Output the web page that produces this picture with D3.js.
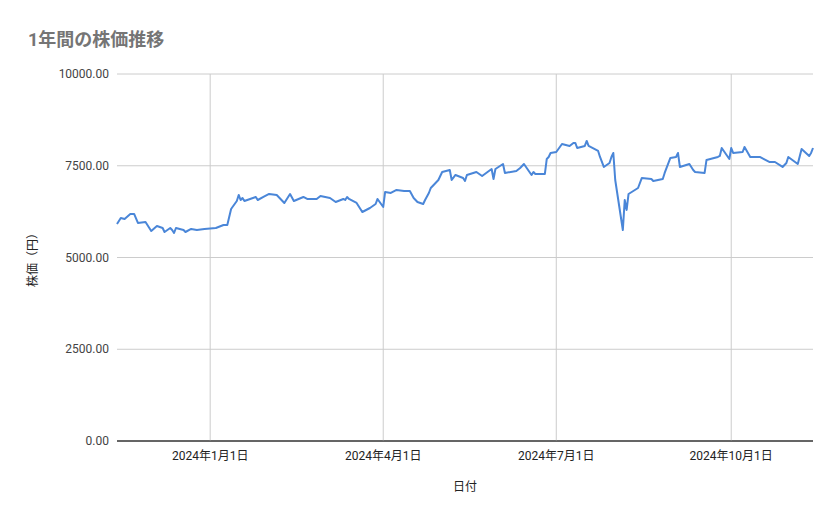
<!DOCTYPE html>
<html><head><meta charset="utf-8">
<script src="https://cdn.jsdelivr.net/npm/d3@7"></script>
<style>body{margin:0;background:#fff;font-family:Roboto,"Noto Sans CJK JP",sans-serif;}</style>
</head><body><svg id="c" width="839" height="519"></svg>
<script>
const dates = ["2023-11-13","2023-11-15","2023-11-17","2023-11-20","2023-11-22","2023-11-24","2023-11-28","2023-11-29","2023-12-01","2023-12-04","2023-12-07","2023-12-08","2023-12-11","2023-12-12","2023-12-13","2023-12-14","2023-12-18","2023-12-19","2023-12-22","2023-12-25","2023-12-29","2024-01-04","2024-01-08","2024-01-10","2024-01-12","2024-01-15","2024-01-16","2024-01-17","2024-01-18","2024-01-19","2024-01-22","2024-01-25","2024-01-26","2024-01-29","2024-02-01","2024-02-05","2024-02-07","2024-02-09","2024-02-12","2024-02-14","2024-02-19","2024-02-21","2024-02-26","2024-02-28","2024-03-04","2024-03-07","2024-03-11","2024-03-12","2024-03-13","2024-03-14","2024-03-18","2024-03-21","2024-03-25","2024-03-28","2024-03-29","2024-04-01","2024-04-02","2024-04-05","2024-04-08","2024-04-12","2024-04-15","2024-04-17","2024-04-19","2024-04-22","2024-04-23","2024-04-25","2024-04-26","2024-04-30","2024-05-02","2024-05-06","2024-05-07","2024-05-09","2024-05-13","2024-05-14","2024-05-15","2024-05-20","2024-05-23","2024-05-28","2024-05-29","2024-05-30","2024-06-03","2024-06-04","2024-06-10","2024-06-12","2024-06-14","2024-06-18","2024-06-19","2024-06-20","2024-06-25","2024-06-26","2024-06-27","2024-06-28","2024-07-01","2024-07-04","2024-07-08","2024-07-10","2024-07-11","2024-07-12","2024-07-16","2024-07-17","2024-07-18","2024-07-23","2024-07-24","2024-07-26","2024-07-29","2024-07-30","2024-07-31","2024-08-01","2024-08-05","2024-08-06","2024-08-07","2024-08-08","2024-08-13","2024-08-15","2024-08-20","2024-08-21","2024-08-26","2024-08-27","2024-08-30","2024-09-02","2024-09-03","2024-09-04","2024-09-09","2024-09-11","2024-09-12","2024-09-17","2024-09-18","2024-09-24","2024-09-25","2024-09-26","2024-09-30","2024-10-01","2024-10-02","2024-10-07","2024-10-08","2024-10-11","2024-10-16","2024-10-21","2024-10-24","2024-10-28","2024-10-30","2024-10-31","2024-11-05","2024-11-07","2024-11-11","2024-11-12","2024-11-13"];
const prices = [5913,6077,6050,6186,6186,5941,5968,5886,5723,5859,5804,5695,5804,5750,5668,5804,5750,5695,5777,5750,5777,5804,5886,5886,6322,6540,6704,6567,6622,6540,6595,6649,6567,6649,6731,6704,6595,6486,6731,6540,6649,6595,6595,6676,6622,6513,6595,6567,6649,6595,6486,6240,6349,6458,6595,6377,6785,6758,6840,6813,6813,6622,6513,6458,6567,6758,6894,7112,7330,7385,7112,7249,7167,7085,7249,7330,7221,7412,7140,7412,7548,7303,7358,7439,7548,7249,7330,7276,7276,7685,7739,7848,7875,8093,8039,8121,8121,7984,8039,8175,8039,7903,7739,7467,7576,7739,7848,7112,5750,6567,6295,6731,6894,7167,7140,7085,7140,7303,7712,7739,7848,7467,7548,7385,7330,7303,7658,7739,7766,7984,7685,7984,7848,7875,8012,7739,7739,7603,7603,7467,7576,7739,7548,7957,7766,7848,7984,7794];
const yTicks = [0,2500,5000,7500,10000];
const xTicks = ["2024-01-01","2024-04-01","2024-07-01","2024-10-01"];
const title = "1年間の株価推移", xLabel = "日付", yLabel = "株価（円）";

const svg = d3.select("#c");
const m = {l:117, r:813, t:74, b:441};
const p = d3.timeParse("%Y-%m-%d");
const data = dates.map((d,i)=>({d:p(d), v:prices[i]}));
const x = d3.scaleTime().domain([p("2023-11-13"), p("2024-11-13")]).range([m.l, m.r]);
const y = d3.scaleLinear().domain([0,10000]).range([m.b, m.t]);

svg.append("g").selectAll("line").data(yTicks).join("line")
  .attr("x1",m.l).attr("x2",m.r).attr("y1",d=>y(d)).attr("y2",d=>y(d))
  .attr("stroke",d=>d===0?"#333":"#cccccc").attr("stroke-width",1);
svg.append("g").selectAll("line").data(xTicks).join("line")
  .attr("x1",d=>x(p(d))).attr("x2",d=>x(p(d))).attr("y1",m.t).attr("y2",m.b)
  .attr("stroke","#cccccc");
svg.append("line").attr("x1",m.l).attr("x2",m.r).attr("y1",y(0)).attr("y2",y(0)).attr("stroke","#333");

svg.append("g").selectAll("text").data(yTicks).join("text")
  .attr("x",m.l-8).attr("y",d=>y(d)+4).attr("text-anchor","end")
  .attr("font-size",12).attr("fill","#444").text(d=>d3.format(".2f")(d));
svg.append("g").selectAll("text").data(xTicks).join("text")
  .attr("x",d=>x(p(d))).attr("y",460).attr("text-anchor","middle")
  .attr("font-size",12).attr("fill","#222").text(d=>{const t=p(d);return `${t.getFullYear()}年${t.getMonth()+1}月${t.getDate()}日`;});

svg.append("path").datum(data)
  .attr("d", d3.line().x(d=>x(d.d)).y(d=>y(d.v)))
  .attr("fill","none").attr("stroke","#4a86d8").attr("stroke-width",2).attr("stroke-linejoin","round");

svg.append("text").attr("x",28).attr("y",46).attr("font-size",18).attr("font-weight","bold").attr("fill","#757575").text(title);
svg.append("text").attr("x",465).attr("y",491).attr("text-anchor","middle").attr("font-size",12).attr("fill","#222").text(xLabel);
svg.append("text").attr("transform","translate(37,257) rotate(-90)").attr("text-anchor","middle").attr("font-size",12).attr("fill","#222").text(yLabel);
</script></body></html>
